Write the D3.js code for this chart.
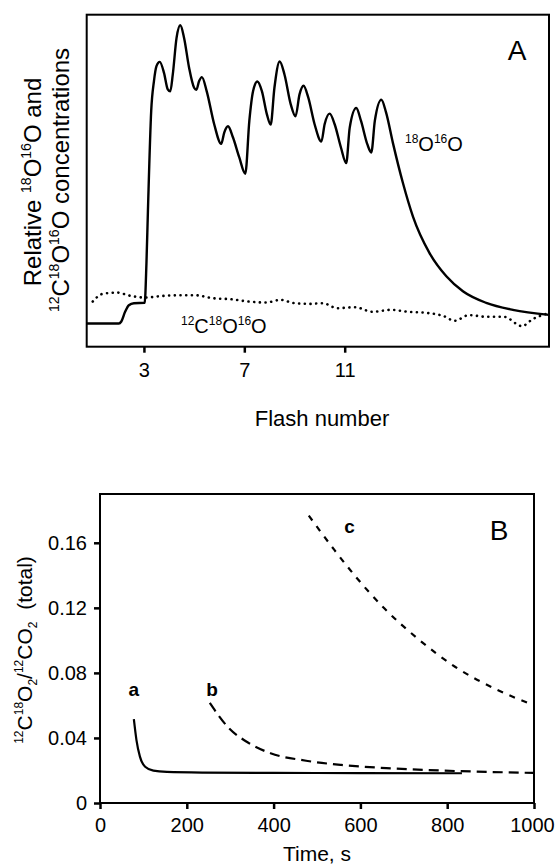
<!DOCTYPE html>
<html>
<head>
<meta charset="utf-8">
<script src="https://cdn.jsdelivr.net/npm/d3@7"></script>
<style>
  body { margin: 0; background: #fff; }
  svg text { font-family: 'Liberation Sans', Arial, Helvetica, sans-serif; fill: #000; }
</style>
</head>
<body>
<script>
// ---- panel A data (relative units) ----
const flash_18O16O = [0.72, 2.0, 2.1, 2.25, 2.4, 2.6, 3.03, 3.1, 3.16, 3.29, 3.4, 3.5, 3.63, 3.8, 3.95, 4.05, 4.15, 4.3, 4.45, 4.6, 4.8, 5.0, 5.09, 5.2, 5.31, 5.5, 5.8, 6.08, 6.2, 6.35, 6.55, 6.8, 7.04, 7.2, 7.35, 7.52, 7.7, 7.9, 8.05, 8.2, 8.41, 8.6, 8.85, 9.04, 9.2, 9.36, 9.55, 9.8, 10.07, 10.2, 10.4, 10.6, 10.85, 11.06, 11.2, 11.46, 11.65, 11.9, 12.06, 12.2, 12.46, 12.65, 12.92, 13.32, 13.72, 14.38, 15.05, 15.71, 16.64, 17.7, 19.14];
const conc_18O16O = [7.0, 7.0, 7.6, 10.5, 12.5, 13.1, 13.2, 25, 41, 71, 80, 84.5, 85.8, 82.5, 77.5, 76.9, 82, 93, 96.8, 93, 84, 78, 77.4, 80, 81.2, 77, 67, 61.1, 64.5, 66.4, 63, 57, 52.1, 68, 77, 79.9, 77, 70, 66.9, 78, 85.9, 82, 73, 69.4, 76, 78.6, 75, 67, 61.8, 67, 70.2, 67, 60, 55.3, 66, 71.9, 68, 61, 58.5, 68, 74.4, 70.5, 61.4, 49.3, 39.2, 28.2, 21.2, 16.7, 13.2, 11.1, 9.6];

const flash_12C18O16O = [0.96, 1.35, 1.92, 2.48, 3.06, 3.76, 4.48, 5.03, 5.75, 6.46, 7.17, 7.86, 8.44, 9.01, 9.58, 10.14, 10.69, 11.41, 12.12, 12.83, 13.54, 14.24, 14.95, 15.38, 15.94, 16.65, 17.35, 18.06, 18.49, 19.14];
const conc_12C18O16O = [13.6, 15.9, 16.3, 15.3, 14.8, 15.3, 15.5, 15.5, 14.6, 14.3, 13.6, 13.3, 14.1, 13.1, 12.9, 13.1, 11.6, 11.9, 10.5, 11.1, 10.5, 10.2, 9.2, 7.8, 9.5, 9.0, 9.0, 6.2, 8.3, 10.1];

const flashTicks = [3, 7, 11];

// ---- panel B data ----
const time_a = [78, 84, 92, 104, 123, 154, 238, 400, 600, 834];
const ratio_a = [0.0515, 0.0387, 0.0285, 0.0223, 0.0199, 0.0191, 0.0187, 0.0185, 0.0184, 0.0183];
const time_b = [253, 294, 344, 393, 475, 556, 670, 794, 998];
const ratio_b = [0.0615, 0.0469, 0.0367, 0.0306, 0.026, 0.0234, 0.0213, 0.0199, 0.0185];
const time_c = [481, 540, 589, 655, 736, 818, 916, 998];
const ratio_c = [0.1767, 0.1556, 0.1392, 0.1197, 0.1002, 0.0838, 0.0695, 0.0603];

const timeTicks = [0, 200, 400, 600, 800, 1000];
const ratioTicks = [0, 0.04, 0.08, 0.12, 0.16];

const FONT = "'Liberation Sans', Arial, Helvetica, sans-serif";
const W = 558, H = 864;
const svg = d3.select("body").append("svg")
    .attr("width", W).attr("height", H)
    .attr("font-family", FONT);

// text with super/subscripts: parts = [[string, "sup"|"sub"|null], ...]
function richText(sel, parts, size) {
    let shift = 0;
    sel.attr("font-family", FONT).attr("xml:space", "preserve");
    parts.forEach(([s, kind]) => {
        let target = kind === "sup" ? -0.42 * size : kind === "sub" ? 0.25 * size : 0;
        sel.append("tspan")
            .attr("dy", target - shift)
            .attr("font-size", (kind ? Math.round(size * 0.58) : size))
            .text(s);
        shift = target;
    });
    return sel;
}

// ================= panel A =================
const A = { left: 86.7, right: 549, top: 14.7, bottom: 346.7 };
const xA = d3.scaleLinear().domain([0.72, 19.14]).range([A.left, A.right]);
const yA = d3.scaleLinear().domain([0, 100]).range([A.bottom, A.top]);

const lineA = d3.line().x(d => xA(d[0])).y(d => yA(d[1])).curve(d3.curveMonotoneX);

svg.append("path")
    .datum(flash_18O16O.map((f, i) => [f, conc_18O16O[i]]))
    .attr("d", lineA)
    .attr("fill", "none").attr("stroke", "#000").attr("stroke-width", 2.4);

svg.append("path")
    .datum(flash_12C18O16O.map((f, i) => [f, conc_12C18O16O[i]]))
    .attr("d", lineA)
    .attr("fill", "none").attr("stroke", "#000").attr("stroke-width", 2.6)
    .attr("stroke-dasharray", "0.1,5.6").attr("stroke-linecap", "round");

svg.append("rect")
    .attr("x", A.left).attr("y", A.top)
    .attr("width", A.right - A.left).attr("height", A.bottom - A.top)
    .attr("fill", "none").attr("stroke", "#000").attr("stroke-width", 2);

const axA = svg.append("g")
    .attr("transform", `translate(0,${A.bottom})`)
    .call(d3.axisBottom(xA).tickValues(flashTicks).tickSize(6).tickSizeOuter(0).tickPadding(10));
axA.attr("font-family", FONT).attr("font-size", 20);
axA.select(".domain").remove();
axA.selectAll(".tick line").attr("stroke", "#000").attr("stroke-width", 2.5);

svg.append("text")
    .attr("x", 322).attr("y", 426)
    .attr("text-anchor", "middle")
    .attr("font-size", 22)
    .text("Flash number");

// y label, two rotated lines
const yLabA1 = svg.append("text")
    .attr("transform", "translate(41,182) rotate(-90)")
    .attr("text-anchor", "middle").attr("font-size", 24);
richText(yLabA1, [["Relative ", null], ["18", "sup"], ["O", null], ["16", "sup"], ["O and", null]], 24);

const yLabA2 = svg.append("text")
    .attr("transform", "translate(69,180) rotate(-90)")
    .attr("text-anchor", "middle").attr("font-size", 24);
richText(yLabA2, [["12", "sup"], ["C", null], ["18", "sup"], ["O", null], ["16", "sup"], ["O concentrations", null]], 24);

richText(svg.append("text").attr("x", 405).attr("y", 151), [["18", "sup"], ["O", null], ["16", "sup"], ["O", null]], 20);
richText(svg.append("text").attr("x", 181).attr("y", 333), [["12", "sup"], ["C", null], ["18", "sup"], ["O", null], ["16", "sup"], ["O", null]], 20);

svg.append("text")
    .attr("x", 517).attr("y", 60)
    .attr("text-anchor", "middle")
    .attr("font-size", 28)
    .text("A");

// ================= panel B =================
const B = { left: 100, right: 534, top: 494, bottom: 803 };
const xB = d3.scaleLinear().domain([0, 1000]).range([B.left, B.right]);
const yB = d3.scaleLinear().domain([0, 0.19]).range([B.bottom, B.top]);

const lineB = d3.line().x(d => xB(d[0])).y(d => yB(d[1])).curve(d3.curveMonotoneX);

const seriesB = [
    { t: time_a, r: ratio_a, dash: null },
    { t: time_b, r: ratio_b, dash: "10,6" },
    { t: time_c, r: ratio_c, dash: "6,7" }
];
seriesB.forEach(s => {
    svg.append("path")
        .datum(s.t.map((t, i) => [t, s.r[i]]))
        .attr("d", lineB)
        .attr("fill", "none").attr("stroke", "#000").attr("stroke-width", 2.2)
        .attr("stroke-dasharray", s.dash);
});

svg.append("rect")
    .attr("x", B.left).attr("y", B.top)
    .attr("width", B.right - B.left).attr("height", B.bottom - B.top)
    .attr("fill", "none").attr("stroke", "#000").attr("stroke-width", 2);

const axBx = svg.append("g")
    .attr("transform", `translate(0,${B.bottom})`)
    .call(d3.axisBottom(xB).tickValues(timeTicks).tickSize(6).tickSizeOuter(0).tickPadding(9)
        .tickFormat(d3.format("d")));
const axBy = svg.append("g")
    .attr("transform", `translate(${B.left},0)`)
    .call(d3.axisLeft(yB).tickValues(ratioTicks).tickSize(6).tickSizeOuter(0).tickPadding(7)
        .tickFormat(d => d === 0 ? "0" : d3.format(".2f")(d)));
[axBx, axBy].forEach(g => {
    g.attr("font-family", FONT).attr("font-size", 20);
    g.select(".domain").remove();
    g.selectAll(".tick line").attr("stroke", "#000").attr("stroke-width", 2.5);
});
// last label sits against the right edge, as in the original
axBx.selectAll(".tick text").filter(d => d === 1000).attr("dx", -2);

svg.append("text")
    .attr("x", 317).attr("y", 861)
    .attr("text-anchor", "middle")
    .attr("font-size", 21)
    .text("Time, s");

const yLabB = svg.append("text")
    .attr("transform", "translate(32,650) rotate(-90)")
    .attr("text-anchor", "middle").attr("font-size", 21);
richText(yLabB, [["12", "sup"], ["C", null], ["18", "sup"], ["O", null], ["2", "sub"], ["/", null], ["12", "sup"], ["CO", null], ["2", "sub"], ["  (total)", null]], 21);

const curveLabels = ["a", "b", "c"];
const curveLabelT = [78, 258, 575];
const curveLabelY = [0.066, 0.066, 0.166];
curveLabels.forEach((s, i) => {
    svg.append("text")
        .attr("x", xB(curveLabelT[i])).attr("y", yB(curveLabelY[i]))
        .attr("text-anchor", "middle")
        .attr("font-size", 19).attr("font-weight", "bold")
        .attr("font-family", "'DejaVu Sans', sans-serif")
        .text(s);
});

svg.append("text")
    .attr("x", 499).attr("y", 540)
    .attr("text-anchor", "middle")
    .attr("font-size", 28)
    .attr("font-family", "'DejaVu Sans Condensed', 'DejaVu Sans', sans-serif")
    .text("B");
</script>
</body>
</html>
